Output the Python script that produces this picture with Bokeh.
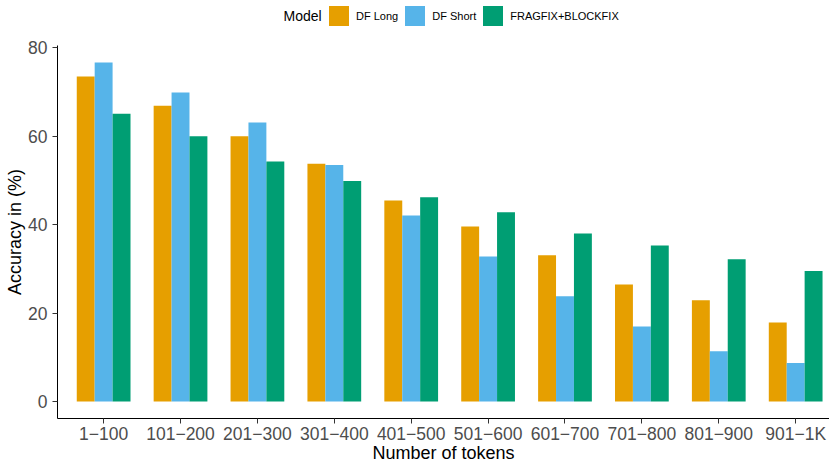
from bokeh.plotting import figure
from bokeh.layouts import column
from bokeh.models import (ColumnDataSource, Range1d, FixedTicker, Legend, LegendItem, Label)
from bokeh.transform import dodge
from bokeh.embed import file_html
from bokeh.resources import INLINE

categories = ["1\u2212100", "101\u2212200", "201\u2212300", "301\u2212400", "401\u2212500",
              "501\u2212600", "601\u2212700", "701\u2212800", "801\u2212900", "901\u22121K"]
df_long = [73.5, 66.9, 60.0, 53.8, 45.5, 39.6, 33.1, 26.5, 22.9, 17.9]
df_short = [76.7, 69.9, 63.1, 53.5, 42.1, 32.8, 23.8, 17.0, 11.4, 8.7]
fragfix = [65.1, 60.0, 54.3, 49.9, 46.2, 42.8, 38.0, 35.3, 32.2, 29.5]
series_names = ["DF Long", "DF Short", "FRAGFIX+BLOCKFIX"]
colors = ["#E69F00", "#56B4E9", "#009E73"]
y_ticks = [0, 20, 40, 60, 80]

pos = list(range(1, len(categories) + 1))
src = ColumnDataSource(dict(x=pos, a=df_long, b=df_short, c=fragfix))

FONT = "Liberation Sans"
W = 829
LH = 30
TOP = 15
FW, FH = 772, 373
LEFT = W - FW

# ---- legend strip (its frame is aligned with the main frame) ----
lg = figure(width=W, height=LH, output_backend="svg", toolbar_location=None,
            x_axis_type=None, y_axis_type=None, x_range=Range1d(-100, -99),
            y_range=Range1d(0, 1), min_border=0, min_border_left=0, min_border_right=0,
            min_border_top=0, min_border_bottom=0)
lg.outline_line_color = None
lg.xgrid.visible = False
lg.ygrid.visible = False
dummies = []
for col, name, color in zip(["a", "b", "c"], series_names, colors):
    r = lg.vbar(x="x", top=col, width=0.1, source=src, fill_color=color, line_color=None)
    dummies.append((name, r))
legend = Legend(items=[LegendItem(label=n, renderers=[r]) for n, r in dummies],
                orientation="horizontal", location=(326 - LEFT, LH - 28),
                padding=0, margin=0, spacing=4, label_standoff=5,
                glyph_width=25, glyph_height=25,
                label_text_font=FONT, label_text_font_size="11px",
                label_text_color="black", label_height=25,
                border_line_color=None, background_fill_alpha=0)
lg.add_layout(legend, "center")
lg.add_layout(Label(x=283 - LEFT, y=LH - 15, x_units="screen", y_units="screen", text="Model",
                    text_font=FONT, text_font_size="14px", text_baseline="middle",
                    text_color="black"))

# ---- main chart ----
p = figure(frame_width=FW, frame_height=FH, output_backend="svg", toolbar_location=None,
           x_range=Range1d(0.4, 10.44), y_range=Range1d(-3.84, 80.54),
           min_border_left=LEFT, min_border_right=0, min_border_top=TOP, min_border_bottom=45)
p.outline_line_color = None
p.xgrid.visible = False
p.ygrid.visible = False
p.background_fill_color = "white"
p.border_fill_color = "white"

bw = 0.233
for i, (col, color) in enumerate(zip(["a", "b", "c"], colors)):
    p.vbar(x=dodge("x", (i - 1) * bw, range=p.x_range), top=col, bottom=0, width=bw,
           source=src, fill_color=color, line_color=None)

for ax in (p.xaxis[0], p.yaxis[0]):
    ax.axis_line_color = "black"
    ax.axis_line_width = 1
    ax.major_tick_line_color = "#333333"
    ax.major_tick_out = 5
    ax.major_tick_in = 0
    ax.minor_tick_line_color = None
    ax.major_label_text_font = FONT
    ax.major_label_text_font_size = "17.5px"
    ax.major_label_text_color = "#4D4D4D"
    ax.axis_label_text_font = FONT
    ax.axis_label_text_font_size = "18px"
    ax.axis_label_text_font_style = "normal"
    ax.axis_label_text_color = "black"

p.xaxis[0].ticker = FixedTicker(ticks=pos)
p.xaxis[0].major_label_overrides = {k: v for k, v in zip(pos, categories)}
p.xaxis[0].axis_label = "Number of tokens"
p.xaxis[0].major_label_standoff = 0
p.xaxis[0].axis_label_standoff = -4

p.yaxis[0].ticker = FixedTicker(ticks=y_ticks)
p.yaxis[0].axis_label = "Accuracy in (%)"
p.yaxis[0].major_label_standoff = 5
p.yaxis[0].axis_label_standoff = 0

layout = column(lg, p, spacing=0)
open("out.html", "w").write(file_html(layout, INLINE))
